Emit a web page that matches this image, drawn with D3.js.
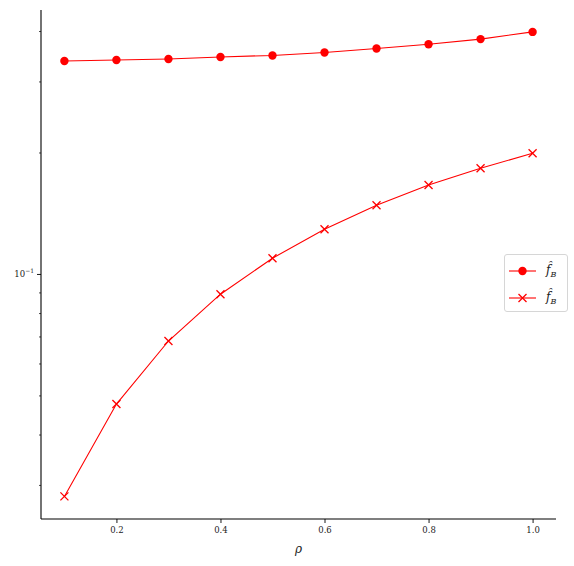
<!DOCTYPE html>
<html>
<head>
<meta charset="utf-8">
<script src="https://cdn.jsdelivr.net/npm/d3@7"></script>
<style>
  body { margin: 0; background: #fff; }
  svg text { font-family: "DejaVu Serif", serif; }
</style>
</head>
<body>
<div id="canvas-area"></div>
<script>
//data
let rhoValues = [0.1, 0.2, 0.3, 0.4, 0.5, 0.6, 0.7, 0.8, 0.9, 1.0];
let circleSeries = [0.337, 0.339, 0.341, 0.345, 0.348, 0.354, 0.362, 0.371, 0.382, 0.398];
let crossSeries = [0.0281, 0.0476, 0.0682, 0.0891, 0.1094, 0.1291, 0.148, 0.1662, 0.1828, 0.1991];
let xTickValues = [0.2, 0.4, 0.6, 0.8, 1.0];
let yMajorTicks = [0.1];
let yMinorTicks = [0.03, 0.04, 0.05, 0.06, 0.07, 0.08, 0.09, 0.2, 0.3, 0.4];
let legendLabels = ["circle", "cross"];

//global vars
let width = 574;
let height = 566;
let plotLeft = 41;
let plotRight = 556;
let plotTop = 10;
let plotBottom = 519;
let lineColor = "#ff0000";

//build canvas
var canvas = d3.select("#canvas-area")
        .append("svg")
        .attr("width", width)
        .attr("height", height);

let xScale = d3.scaleLinear()
        .domain([0.055, 1.045])
        .range([plotLeft, plotRight]);

let yScale = d3.scaleLog()
        .domain([0.0247, 0.451])
        .range([plotBottom, plotTop]);

drawAxes();
drawSeries(circleSeries, "circle");
drawSeries(crossSeries, "cross");
drawLegend();

//left and bottom spines with ticks
function drawAxes(){
  let xAxis = d3.axisBottom(xScale)
          .tickValues(xTickValues)
          .tickSize(4)
          .tickPadding(4)
          .tickFormat(d3.format(".1f"));

  let xg = canvas.append("g")
          .attr("transform", "translate(0," + plotBottom + ")")
          .call(xAxis);
  xg.select(".domain").attr("d", "M" + plotLeft + ",0H" + plotRight).attr("stroke-width", 1.1);
  xg.selectAll("text").attr("font-size", 8.5).attr("fill", "#222").attr("font-family", "DejaVu Serif");
  xg.selectAll("line").attr("stroke-width", 0.9);

  let yAxis = d3.axisLeft(yScale)
          .tickValues(yMajorTicks)
          .tickSize(4)
          .tickPadding(4)
          .tickFormat(function(){ return ""; });

  let yg = canvas.append("g")
          .attr("transform", "translate(" + plotLeft + ",0)")
          .call(yAxis);
  yg.select(".domain").attr("d", "M0," + plotTop + "V" + plotBottom).attr("stroke-width", 1.1);
  yg.selectAll("line").attr("stroke-width", 0.9);

  // minor ticks
  let yMinor = d3.axisLeft(yScale)
          .tickValues(yMinorTicks)
          .tickSize(2)
          .tickFormat(function(){ return ""; });
  let ym = canvas.append("g")
          .attr("transform", "translate(" + plotLeft + ",0)")
          .call(yMinor);
  ym.select(".domain").remove();
  ym.selectAll("line").attr("stroke-width", 0.7);

  //10^-1 label, built by hand for the superscript
  let label = canvas.append("text")
          .attr("x", plotLeft - 7)
          .attr("y", yScale(0.1) + 3)
          .attr("text-anchor", "end")
          .attr("font-size", 8.5)
          .attr("fill", "#222");
  label.append("tspan").text("10");
  label.append("tspan").attr("dy", -4).attr("font-size", 6).text("\u22121");

  canvas.append("text")
          .attr("x", xScale(0.55))
          .attr("y", 553)
          .attr("text-anchor", "middle")
          .attr("font-size", 12)
          .attr("font-style", "italic")
          .attr("fill", "#222")
          .text("\u03c1");
}

function drawSeries(values, markerType){
  let points = rhoValues.map(function(r, i){ return [r, values[i]]; });
  let line = d3.line()
          .x(function(d){ return xScale(d[0]); })
          .y(function(d){ return yScale(d[1]); });

  canvas.append("path")
          .datum(points)
          .attr("fill", "none")
          .attr("stroke", lineColor)
          .attr("stroke-width", 1.1)
          .attr("d", line);

  points.forEach(function(p){
    drawMarker(xScale(p[0]), yScale(p[1]), markerType);
  });
}

function drawMarker(cx, cy, markerType){
  if(markerType == "circle"){
    canvas.append("circle")
          .attr("cx", cx)
          .attr("cy", cy)
          .attr("r", 4.2)
          .attr("fill", lineColor);
  } else {
    let s = 4;
    canvas.append("path")
          .attr("d", "M" + (cx - s) + "," + (cy - s) + "L" + (cx + s) + "," + (cy + s) +
                     "M" + (cx - s) + "," + (cy + s) + "L" + (cx + s) + "," + (cy - s))
          .attr("stroke", lineColor)
          .attr("stroke-width", 1.3)
          .attr("fill", "none");
  }
}

function drawLegend(){
  let legendX = 504;
  let legendY = 254;
  canvas.append("rect")
          .attr("x", legendX + 0.5)
          .attr("y", legendY + 0.5)
          .attr("width", 63)
          .attr("height", 57)
          .attr("rx", 2.5)
          .attr("fill", "#fff")
          .attr("fill-opacity", 0.8)
          .attr("stroke", "#d6d6d6")
          .attr("stroke-width", 1);

  legendLabels.forEach(function(kind, i){
    let rowY = legendY + 17 + i * 27;
    canvas.append("line")
          .attr("x1", legendX + 5)
          .attr("x2", legendX + 32)
          .attr("y1", rowY)
          .attr("y2", rowY)
          .attr("stroke", lineColor)
          .attr("stroke-width", 1.1);
    drawMarker(legendX + 18.5, rowY, kind);

    let t = canvas.append("text")
          .attr("x", legendX + 42)
          .attr("y", rowY + 3)
          .attr("font-size", 12)
          .attr("font-style", "italic")
          .attr("fill", "#222");
    t.append("tspan").text("f\u0302");
    t.append("tspan").attr("dy", 3).attr("font-size", 8).text("B");
  });
}
</script>
</body>
</html>
